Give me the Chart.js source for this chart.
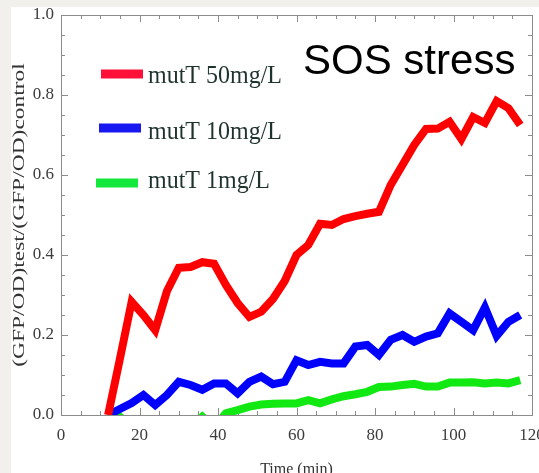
<!DOCTYPE html>
<html>
<head>
<meta charset="utf-8">
<script src="https://cdn.jsdelivr.net/npm/chart.js@4/dist/chart.umd.min.js"></script>
<style>
  html, body { margin: 0; padding: 0; background: #f1f0ec; }
  #wrap { position: absolute; left: 11px; top: 7px; width: 528px; height: 466px; background: #fff; }
</style>
</head>
<body>
<div id="wrap"><canvas id="c" width="528" height="466"></canvas></div>
<script>
// time points (min)
const times = [12, 15, 18, 21, 24, 27, 30, 33, 36, 39, 42, 45, 48, 51, 54, 57, 60, 63,
  66, 69, 72, 75, 78, 81, 84, 87, 90, 93, 96, 99, 102, 105, 108, 111, 114, 117];

const mutT50 = [0.0, 0.14, 0.283, 0.25, 0.212, 0.31, 0.368, 0.37, 0.382, 0.378, 0.325, 0.28,
  0.245, 0.258, 0.29, 0.335, 0.40, 0.425, 0.478, 0.475, 0.49, 0.497, 0.503, 0.508,
  0.575, 0.625, 0.675, 0.715, 0.716, 0.733, 0.69, 0.745, 0.73, 0.785, 0.767, 0.725];

const mutT10 = [0.0, 0.015, 0.03, 0.05, 0.025, 0.05, 0.083, 0.075, 0.063, 0.079, 0.079, 0.054,
  0.083, 0.096, 0.077, 0.083, 0.137, 0.125, 0.133, 0.129, 0.129, 0.171, 0.175, 0.15,
  0.188, 0.2, 0.183, 0.196, 0.204, 0.254, 0.233, 0.212, 0.269, 0.198, 0.233, 0.25];

const mutT1 = [-0.03, -0.004, -0.03, -0.03, -0.03, -0.03, -0.03, -0.03, -0.004, -0.03, 0.004, 0.012,
  0.021, 0.026, 0.028, 0.029, 0.029, 0.037, 0.029, 0.039, 0.047, 0.052, 0.058, 0.07,
  0.071, 0.075, 0.078, 0.071, 0.071, 0.081, 0.081, 0.082, 0.079, 0.081, 0.079, 0.087];

const seriesLabels = ["mutT 50mg/L", "mutT 10mg/L", "mutT 1mg/L"];
const seriesColors = ["#ff0000", "#0000ff", "#12e812"];
const legendColors = ["#ff1038", "#1818f0", "#14e83c"];

const X_MIN = 0, X_MAX = 120, X_STEP = 20, X_MINOR = 5;
const Y_MIN = 0, Y_MAX = 1, Y_STEP = 0.2, Y_MINOR = 0.05;

const SERIF = "'Liberation Serif', 'Times New Roman', serif";
const pts = ys => times.map((t, i) => ({ x: t, y: ys[i] }));

// frame with inward ticks on all four sides
const frame = {
  id: "frame",
  beforeDatasetsDraw(chart) {
    const { ctx, chartArea: a, scales: { x, y } } = chart;
    ctx.save();
    ctx.strokeStyle = "#8c8c8c";
    ctx.lineWidth = 1;
    ctx.beginPath();
    const nx = Math.round((x.max - x.min) / X_MINOR);
    for (let i = 0; i <= nx; i++) {
      const v = x.min + i * X_MINOR;
      const px = Math.round(x.getPixelForValue(v)) + 0.5;
      const len = (i * X_MINOR) % X_STEP === 0 ? 7 : 4;
      ctx.moveTo(px, a.bottom); ctx.lineTo(px, a.bottom - len);
      ctx.moveTo(px, a.top); ctx.lineTo(px, a.top + len);
    }
    const ny = Math.round((y.max - y.min) / Y_MINOR);
    const per = Math.round(Y_STEP / Y_MINOR);
    for (let i = 0; i <= ny; i++) {
      const v = y.min + i * Y_MINOR;
      const py = Math.round(y.getPixelForValue(v)) + 0.5;
      const len = i % per === 0 ? 7 : 4;
      ctx.moveTo(a.left, py); ctx.lineTo(a.left + len, py);
      ctx.moveTo(a.right, py); ctx.lineTo(a.right - len, py);
    }
    ctx.stroke();
    ctx.strokeRect(Math.round(a.left) + 0.5, Math.round(a.top) + 0.5,
      Math.round(a.right - a.left), Math.round(a.bottom - a.top));
    ctx.restore();
  },
  afterDraw(chart) {
    const { ctx, chartArea: a } = chart;
    ctx.save();
    // axis titles
    ctx.fillStyle = "#333";
    ctx.font = "16px " + SERIF;
    ctx.textAlign = "center";
    ctx.textBaseline = "alphabetic";
    ctx.fillText("Time (min)", (a.left + a.right) / 2, chart.height + 1);

    ctx.save();
    ctx.translate(13, (a.top + a.bottom) / 2);
    ctx.rotate(-Math.PI / 2);
    ctx.scale(1.38, 1);
    ctx.font = "17px " + SERIF;
    ctx.fillText("(GFP/OD)test/(GFP/OD)control", 0, 0);
    ctx.restore();

    // legend
    const rows = [
      { x0: 90, x1: 132, ly: 67, ty: 76 },
      { x0: 88, x1: 130, ly: 121, ty: 132 },
      { x0: 85, x1: 127, ly: 176, ty: 181 }
    ];
    ctx.font = "25px " + SERIF;
    ctx.textAlign = "left";
    rows.forEach((r, i) => {
      ctx.strokeStyle = legendColors[i];
      ctx.lineWidth = 9;
      ctx.beginPath();
      ctx.moveTo(r.x0, r.ly); ctx.lineTo(r.x1, r.ly);
      ctx.stroke();
      ctx.fillStyle = "#1f332e";
      ctx.save();
      ctx.translate(137, r.ty);
      ctx.scale(0.96, 1);
      ctx.fillText(seriesLabels[i], 0, 0);
      ctx.restore();
    });

    // annotation
    ctx.fillStyle = "#000";
    ctx.font = "42px 'Liberation Sans', Arial, sans-serif";
    ctx.fillText("SOS stress", 292, 67);
    ctx.restore();
  }
};

new Chart(document.getElementById("c"), {
  type: "line",
  data: {
    datasets: [
      { label: seriesLabels[0], data: pts(mutT50), borderColor: seriesColors[0] },
      { label: seriesLabels[1], data: pts(mutT10), borderColor: seriesColors[1] },
      { label: seriesLabels[2], data: pts(mutT1), borderColor: seriesColors[2], clip: 0 }
    ]
  },
  options: {
    responsive: false,
    animation: false,
    devicePixelRatio: 1,
    layout: { padding: { left: 0, top: 8, right: 7, bottom: 0 } },
    elements: {
      line: { borderWidth: 8, tension: 0, fill: false },
      point: { radius: 0, hoverRadius: 0 }
    },
    plugins: { legend: { display: false }, tooltip: { enabled: false } },
    scales: {
      x: {
        type: "linear", min: X_MIN, max: X_MAX,
        afterFit(s) { s.height = 58; s.paddingLeft = 0; s.paddingRight = 0; },
        grid: { display: false, drawTicks: false },
        border: { display: false },
        ticks: { stepSize: X_STEP, padding: 10, color: "#3c3c3c", font: { family: SERIF, size: 17 } }
      },
      y: {
        min: Y_MIN, max: Y_MAX,
        afterFit(s) { s.width = 50; s.paddingTop = 0; s.paddingBottom = 0; },
        grid: { display: false, drawTicks: false },
        border: { display: false },
        ticks: {
          stepSize: Y_STEP, padding: 7, color: "#3c3c3c", font: { family: SERIF, size: 17 },
          callback: v => v.toFixed(1)
        }
      }
    }
  },
  plugins: [frame]
});
</script>
</body>
</html>
